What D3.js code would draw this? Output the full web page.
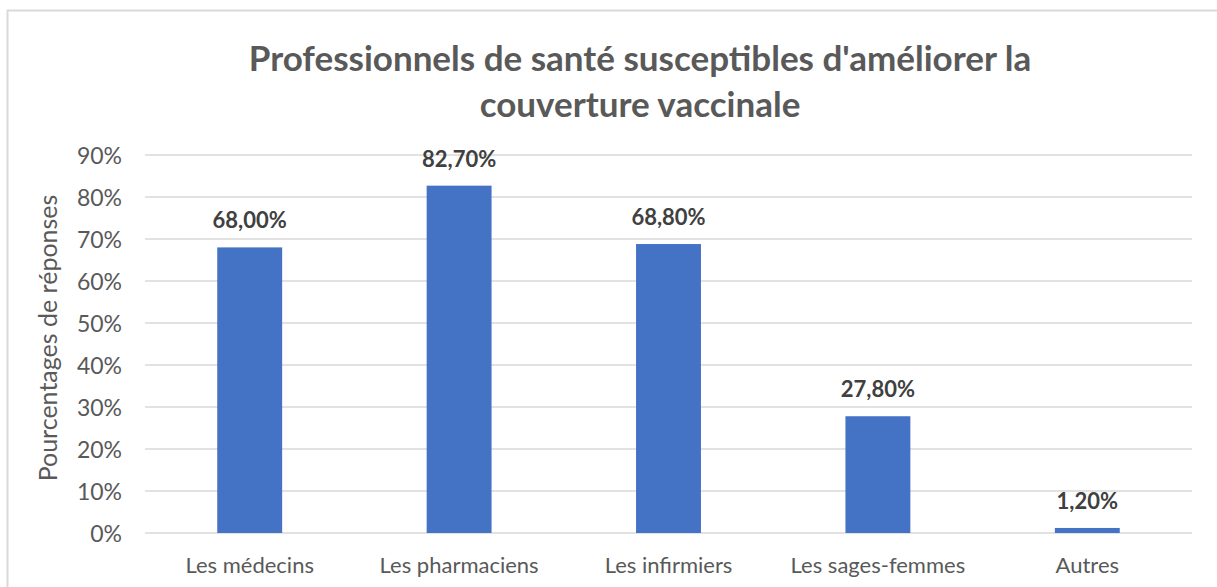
<!DOCTYPE html>
<html>
<head>
<meta charset="utf-8">
<script src="https://cdn.jsdelivr.net/npm/d3@7"></script>
<style>
  html, body { margin: 0; padding: 0; background: #fff; }
  svg { display: block; }
  text { font-family: Lato, "Open Sans", sans-serif; }
</style>
</head>
<body>
<svg id="chart" width="1217" height="587"></svg>
<script>
const categories = ["Les médecins", "Les pharmaciens", "Les infirmiers", "Les sages-femmes", "Autres"];
const values = [0.680, 0.827, 0.688, 0.278, 0.012];
const valueLabels = ["68,00%", "82,70%", "68,80%", "27,80%", "1,20%"];
const yTicks = [0, 0.1, 0.2, 0.3, 0.4, 0.5, 0.6, 0.7, 0.8, 0.9];
const titleLines = ["Professionnels de santé susceptibles d'améliorer la", "couverture vaccinale"];
const yTitle = "Pourcentages de réponses";

const svg = d3.select("#chart");

// chart border
svg.append("rect")
  .attr("x", 7.5).attr("y", 10.5)
  .attr("width", 1400).attr("height", 800)
  .attr("fill", "none").attr("stroke", "#D9D9D9").attr("stroke-width", 2);

const x = d3.scaleBand().domain(categories).range([145, 1192]).paddingInner(0.69).paddingOuter(0.345);
const y = d3.scaleLinear().domain([0, 0.9]).range([533, 155]);

// gridlines
svg.append("g").selectAll("line").data(yTicks).join("line")
  .attr("x1", 145).attr("x2", 1192)
  .attr("y1", d => y(d)).attr("y2", d => y(d))
  .attr("stroke", "#D9D9D9").attr("stroke-width", 1.5);

// y axis labels
const yAxis = d3.axisLeft(y).tickValues(yTicks).tickSize(0).tickPadding(0)
  .tickFormat(d => Math.round(d * 100) + "%");
const gy = svg.append("g").attr("transform", "translate(122,0)").call(yAxis);
gy.select(".domain").remove();
gy.selectAll("text").attr("font-family", "Lato").attr("font-size", 23).attr("fill", "#595959")
  .attr("dy", "0.35em");

// x axis labels
const xAxis = d3.axisBottom(x).tickSize(0).tickPadding(0);
const gx = svg.append("g").attr("transform", "translate(0,573)").call(xAxis);
gx.select(".domain").remove();
gx.selectAll("text").attr("font-family", "Lato").attr("font-size", 22).attr("fill", "#595959")
  .attr("dy", 0).attr("y", 0);

// bars
svg.append("g").selectAll("rect").data(values).join("rect")
  .attr("x", (d, i) => x(categories[i]))
  .attr("width", x.bandwidth())
  .attr("y", d => y(d))
  .attr("height", d => y(0) - y(d))
  .attr("fill", "#4472C4");

// data labels
svg.append("g").selectAll("text").data(values).join("text")
  .attr("x", (d, i) => x(categories[i]) + x.bandwidth() / 2)
  .attr("y", d => y(d) - 19)
  .attr("text-anchor", "middle")
  .attr("font-size", 22).attr("font-weight", "bold").attr("fill", "#404040")
  .text((d, i) => valueLabels[i]);

// title
svg.append("g").selectAll("text").data(titleLines).join("text")
  .attr("x", 640).attr("y", (d, i) => 71 + i * 46)
  .attr("text-anchor", "middle")
  .attr("font-size", 35).attr("font-weight", "bold").attr("fill", "#595959")
  .text(d => d);

// y axis title
svg.append("text")
  .attr("transform", "translate(57,338) rotate(-90)")
  .attr("text-anchor", "middle")
  .attr("font-size", 25).attr("fill", "#595959")
  .text(yTitle);
</script>
</body>
</html>
